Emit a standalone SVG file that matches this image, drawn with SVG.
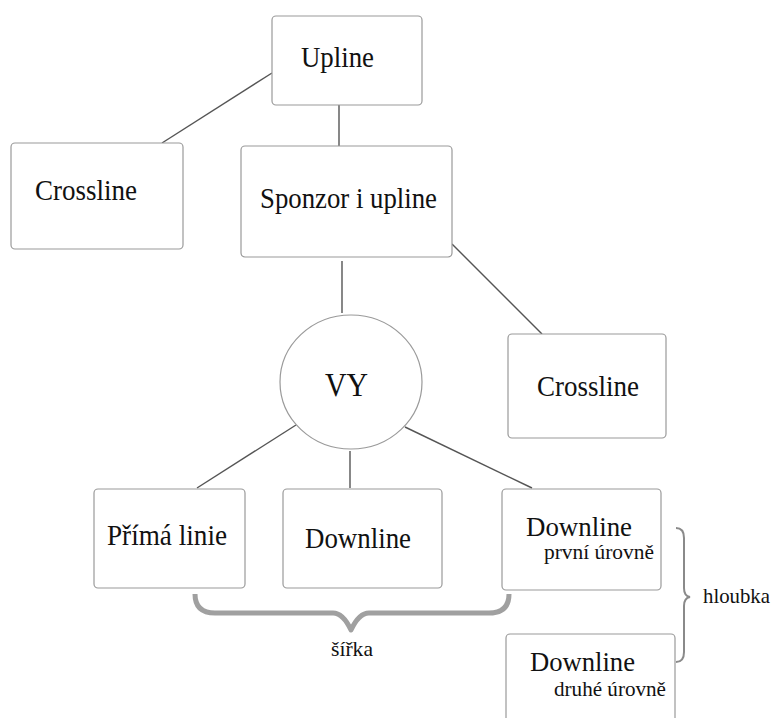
<svg xmlns="http://www.w3.org/2000/svg" width="771" height="718" viewBox="0 0 771 718">
<style>
.box{fill:#fff;stroke:#9a9a9a;stroke-width:1.2}
.t{font-family:"Liberation Serif","Times New Roman",serif;fill:#111;text-anchor:start}
.big{font-size:29px}
.sm{font-size:21px}
.con line{stroke:#555;stroke-width:1.4}
</style>
<rect width="771" height="718" fill="#fff"/>
<g class="con" id="connectors">
<line x1="272" y1="73" x2="162" y2="143"/>
<line x1="339" y1="105" x2="339" y2="152"/>
<line x1="342" y1="261" x2="342" y2="313"/>
<line x1="452" y1="244" x2="542" y2="334"/>
<line x1="296" y1="425" x2="197" y2="488"/>
<line x1="350" y1="451" x2="350" y2="488"/>
<line x1="405" y1="427" x2="532" y2="488"/>
</g>
<g id="upline"><rect class="box" x="272" y="16" width="150" height="89" rx="4"/><text class="t big" x="301" y="67" textLength="73" lengthAdjust="spacingAndGlyphs">Upline</text></g>
<g id="crossline-left"><rect class="box" x="11" y="143" width="172" height="106" rx="4"/><text class="t big" x="35" y="200" textLength="102" lengthAdjust="spacingAndGlyphs">Crossline</text></g>
<g id="sponzor"><rect class="box" x="241" y="146" width="211" height="111" rx="4"/><text class="t big" x="260" y="208" textLength="177" lengthAdjust="spacingAndGlyphs">Sponzor i upline</text></g>
<g id="vy"><ellipse cx="351" cy="382" rx="71" ry="67" fill="#fff" stroke="#9a9a9a" stroke-width="1.2"/><text class="t" style="font-size:34px" x="325" y="396" textLength="43" lengthAdjust="spacingAndGlyphs">VY</text></g>
<g id="crossline-right"><rect class="box" x="508" y="334" width="158" height="104" rx="4"/><text class="t big" x="537" y="396" textLength="102" lengthAdjust="spacingAndGlyphs">Crossline</text></g>
<g id="prima-linie"><rect class="box" x="94" y="489" width="151" height="99" rx="4"/><text class="t big" x="107" y="545" textLength="120" lengthAdjust="spacingAndGlyphs">Přímá linie</text></g>
<g id="downline"><rect class="box" x="283" y="489" width="159" height="99" rx="4"/><text class="t big" x="305" y="548" textLength="106" lengthAdjust="spacingAndGlyphs">Downline</text></g>
<g id="downline-1"><rect class="box" x="502" y="489" width="159" height="101" rx="4"/><text class="t" style="font-size:27px" x="526" y="536" textLength="106" lengthAdjust="spacingAndGlyphs">Downline</text><text class="t sm" x="544" y="559" textLength="110" lengthAdjust="spacingAndGlyphs">první úrovně</text></g>
<g id="downline-2"><rect class="box" x="506" y="634" width="169" height="100" rx="4"/><text class="t" style="font-size:27px" x="530" y="671" textLength="105" lengthAdjust="spacingAndGlyphs">Downline</text><text class="t sm" x="554" y="696" textLength="112" lengthAdjust="spacingAndGlyphs">druhé úrovně</text></g>
<g id="sirka">
<path d="M195 594 Q195 613 215 613 L333 613 Q343 613 351 630 Q359 613 369 613 L489 613 Q509 613 509 594" fill="none" stroke="#a0a0a0" stroke-width="5" stroke-linejoin="round"/>
<text class="t sm" x="331" y="656" textLength="42" lengthAdjust="spacingAndGlyphs">šířka</text>
</g>
<g id="hloubka">
<path d="M676 528 Q684 528 684 538 L684 588 Q684 596 690 597 Q684 598 684 606 L684 652 Q684 662 676 662" fill="none" stroke="#8a8a8a" stroke-width="2"/>
<text class="t sm" x="703" y="603" textLength="67" lengthAdjust="spacingAndGlyphs">hloubka</text>
</g>
</svg>
